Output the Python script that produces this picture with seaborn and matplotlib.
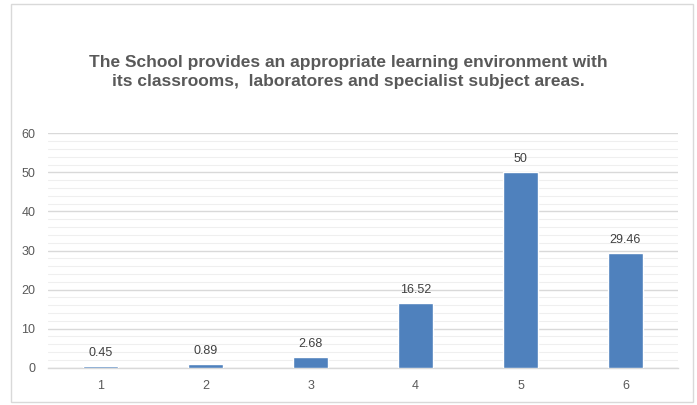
import matplotlib
matplotlib.use('Agg')
import matplotlib.pyplot as plt
import seaborn as sns
import pandas as pd
from matplotlib.patches import Rectangle
from matplotlib.ticker import MultipleLocator

# chart data
categories = ['1', '2', '3', '4', '5', '6']
values = [0.45, 0.89, 2.68, 16.52, 50, 29.46]
labels = ['0.45', '0.89', '2.68', '16.52', '50', '29.46']
title = ('The School provides an appropriate learning environment with\n'
         'its classrooms,  laboratores and specialist subject areas.')

df = pd.DataFrame({'cat': categories, 'val': values})

sns.set_style('white')
plt.rcParams['font.family'] = ['Liberation Sans', 'DejaVu Sans']

fig = plt.figure(figsize=(6.97, 4.05), dpi=100)
ax = fig.add_axes([48 / 697, 1 - 367.7 / 405, 630 / 697, 234.4 / 405])

sns.barplot(data=df, x='cat', y='val', color='#4f81bd', saturation=1,
            width=0.34, ax=ax, zorder=3)

ax.set_ylim(0, 60)
ax.set_xlim(-0.5, 5.5)
ax.yaxis.set_major_locator(MultipleLocator(10))
ax.yaxis.set_minor_locator(MultipleLocator(2))
ax.grid(axis='y', which='major', color='#d9d9d9', linewidth=1, zorder=0)
ax.grid(axis='y', which='minor', color='#efefef', linewidth=0.8, zorder=0)
ax.set_axisbelow(True)

for s in ['top', 'right', 'left']:
    ax.spines[s].set_visible(False)
ax.spines['bottom'].set_color('#d9d9d9')
ax.spines['bottom'].set_linewidth(1)

ax.tick_params(axis='both', which='both', length=0, labelsize=9,
               labelcolor='#595959')
ax.tick_params(axis='x', pad=9)
ax.tick_params(axis='y', pad=9)
ax.set_xlabel('')
ax.set_ylabel('')

for i, (v, lab) in enumerate(zip(values, labels)):
    ax.annotate(lab, (i, v), xytext=(0, 5), textcoords='offset points',
                ha='center', va='bottom', fontsize=9, color='#404040')

fig.text(0.5, 1 - 72 / 405, title, ha='center', va='center',
         fontsize=12.5, fontweight='bold', color='#595959', linespacing=1.3)

fig.patches.append(Rectangle((11 / 697, 3 / 405), 682 / 697, 398 / 405,
                             transform=fig.transFigure, fill=False,
                             edgecolor='#d9d9d9', linewidth=1))

fig.savefig('out.png', dpi=100)
